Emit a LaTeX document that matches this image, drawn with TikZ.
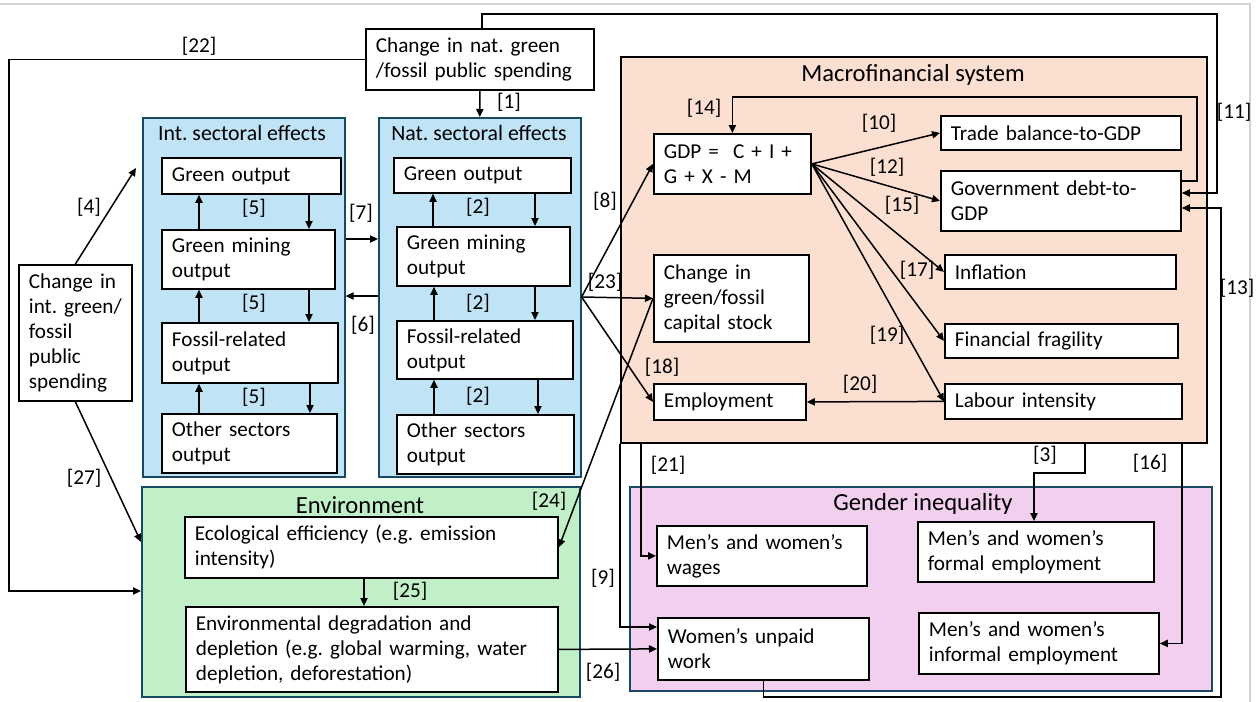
\documentclass[tikz,border=0pt]{standalone}
\usepackage{fontspec}
\setmainfont{Carlito}
\usetikzlibrary{arrows.meta}
\frenchspacing
\definecolor{sectblue}{HTML}{C0E4F5}
\definecolor{envgreen}{HTML}{C1F0C8}
\definecolor{macropeach}{HTML}{FBE0D2}
\definecolor{genderpink}{HTML}{F2CFEE}
\definecolor{grpline}{HTML}{1A4A63}

\begin{document}
\begin{tikzpicture}[x=0.5pt, y=-0.5pt,
    font=\fontsize{10.6}{12.5}\selectfont,
    >={Triangle[length=4pt,width=3.6pt]},
    box/.style={draw, line width=0.9pt, fill=white, anchor=north west, align=left, inner xsep=5pt, inner ysep=1pt},
    group/.style={draw=grpline, line width=0.8pt, anchor=north west, inner sep=0pt},
    title/.style={font=\fontsize{12.3}{14}\selectfont},
    subtitle/.style={font=\fontsize{10.9}{13}\selectfont},
    lab/.style={inner sep=1pt},
    link/.style={->, line width=0.75pt}]
    \useasboundingbox (0,0) rectangle (1260,702);
    \draw[gray!35, line width=0.8pt] (0,4) -- (1250,4) -- (1250,702);

    % groups
    \node[group, fill=sectblue, minimum width=101pt, minimum height=179.5pt] (intbox) at (142,117) {};
    \node[group, fill=sectblue, minimum width=101pt, minimum height=179.5pt] (natbox) at (378,117) {};
    \node[group, fill=envgreen, minimum width=219pt, minimum height=105pt] (envbox) at (141,486) {};
    \node[group, draw=black, line width=1.1pt, fill=macropeach, minimum width=293pt, minimum height=193pt] (macro) at (620,56) {};
    \node[group, fill=genderpink, minimum width=291pt, minimum height=102pt] (gender) at (629,486) {};

    \node[subtitle] (inttitle) at (242,133) {Int. sectoral effects};
    \node[subtitle] (nattitle) at (479,133) {Nat. sectoral effects};
    \node[title] (envtitle) at (360,505) {Environment};
    \node[title] (macrotitle) at (913,75) {Macrofinancial system};
    \node[title] (gendertitle) at (923,504) {Gender inequality};

    % spending boxes
    \node[box, text width=104pt, minimum height=30.5pt] (natsp) at (365,28) {Change in nat. green\\/fossil public spending};
    \node[box, text width=46.5pt, minimum height=68pt] (intsp) at (18,264) {Change in\\int. green/\\fossil\\public\\spending};

    % sectors
    \node[box, text width=79.5pt, minimum height=18pt] (intgo) at (161,157) {Green output};
    \node[box, text width=76.5pt, minimum height=29.5pt] (intgm) at (161,229) {Green mining\\output};
    \node[box, text width=78pt, minimum height=30pt] (intfo) at (161,322) {Fossil-related\\output};
    \node[box, text width=77.5pt, minimum height=29.5pt] (intot) at (161,413) {Other sectors\\output};
    \node[box, text width=78.5pt, minimum height=17.5pt] (natgo) at (393,157) {Green output};
    \node[box, text width=76.5pt, minimum height=29.5pt] (natgm) at (396,226) {Green mining\\output};
    \node[box, text width=78pt, minimum height=29pt] (natfo) at (396,320) {Fossil-related\\output};
    \node[box, text width=78.5pt, minimum height=29.5pt] (natot) at (396,414) {Other sectors\\output};

    % environment
    \node[box, text width=176.5pt, minimum height=30.5pt] (eco) at (184,516) {Ecological efficiency (e.g. emission\\intensity)};
    \node[box, text width=176pt, minimum height=42.5pt] (degr) at (185,606) {Environmental degradation and\\depletion (e.g. global warming, water\\depletion, deforestation)};

    % macrofinancial system
    \node[box, text width=68.5pt, minimum height=30pt] (gdp) at (653,133) {GDP = ~C + I +\\G + X - M};
    \node[box, text width=67.5pt, minimum height=43.5pt] (capst) at (653,254) {Change in\\green/fossil\\capital stock};
    \node[box, text width=66pt, minimum height=18pt] (empl) at (653,383) {Employment};
    \node[box, text width=110pt, minimum height=17pt] (trade) at (940,115) {Trade balance-to-GDP};
    \node[box, text width=110pt, minimum height=30pt] (gov) at (940,170) {Government debt-to-\\GDP};
    \node[box, text width=105.5pt, minimum height=17pt] (infl) at (944,254) {Inflation};
    \node[box, text width=106.5pt, minimum height=17pt] (frag) at (944,323) {Financial fragility};
    \node[box, text width=108.5pt, minimum height=17.5pt] (labour) at (944,383) {Labour intensity};

    % gender inequality
    \node[box, text width=95pt, minimum height=30pt] (wages) at (656,525) {Men’s and women’s\\wages};
    \node[box, text width=108pt, minimum height=30pt] (formal) at (917,521) {Men’s and women’s\\formal employment};
    \node[box, text width=95.5pt, minimum height=31pt] (unpaid) at (657,617) {Women’s unpaid\\work};
    \node[box, text width=110pt, minimum height=30.5pt] (informal) at (918,612) {Men’s and women’s\\informal employment};

    % links
    \draw[link] (natsp.south) -- (natbox.north);
    \draw[link] ([xshift=1pt]natsp.north) |- (1217,14) |- (gov.east |- 0,193);
    \draw[link] (natsp.west) -| (9,591) -- (envbox.west |- 0,591);
    \draw[link] (intsp.north) -- ([xshift=-3pt]intbox.west |- 0,168);
    \draw[link] (intsp.south) -- (envbox.west |- 0,542);

    \draw[link] (intgm.north -| 199,0) -- (intgo.south -| 199,0);
    \draw[link] (intgo.south -| 309,0) -- (intgm.north -| 309,0);
    \draw[link] (intfo.north -| 199,0) -- (intgm.south -| 199,0);
    \draw[link] (intgm.south -| 309,0) -- (intfo.north -| 309,0);
    \draw[link] (intot.north -| 199,0) -- (intfo.south -| 199,0);
    \draw[link] (intfo.south -| 310,0) -- (intot.north -| 310,0);
    \draw[link] (natgm.north -| 433,0) -- (natgo.south -| 433,0);
    \draw[link] (natgo.south -| 535,0) -- (natgm.north -| 535,0);
    \draw[link] (natfo.north -| 434,0) -- (natgm.south -| 434,0);
    \draw[link] (natgm.south -| 535,0) -- (natfo.north -| 535,0);
    \draw[link] (natot.north -| 434,0) -- (natfo.south -| 434,0);
    \draw[link] (natfo.south -| 538,0) -- (natot.north -| 538,0);

    \draw[link] (intbox.east |- 0,239) -- (natbox.west |- 0,239);
    \draw[link] (natbox.west |- 0,296) -- (intbox.east |- 0,296);

    \coordinate (fan) at (natbox.east |- 0,297);
    \draw[link] (fan) -- (gdp.west);
    \draw[link] (fan) -- (capst.west);
    \draw[link] (fan) -- (empl.west);
    \draw[link] (capst.west) -- (eco.east);
    \draw[link] (eco.south -| 364,0) -- (degr.north -| 364,0);

    \draw[link] (gdp.east) -- (trade.west);
    \draw[link] (gdp.east) -- (gov.west);
    \draw[link] (gdp.east) -- (infl.west);
    \draw[link] (gdp.east) -- (frag.west);
    \draw[link] (gdp.east) -- (labour.west);
    \draw[link] (gov.east |- 0,181) -| (1197,97) -| (gdp.north);
    \draw[link] (labour.west) -- (empl.east);

    \draw[link] (unpaid.south) |- (1221,697) |- (gov.east |- 0,208);
    \draw[link] (macro.south -| 641,0) |- (wages.west);
    \draw[link] (macro.south west) |- (unpaid.west |- 0,627);
    \draw[link] (degr.east) -- (unpaid.west);
    \draw[link] (macro.south -| 1085,0) |- (1034,473) -- (formal.north -| 1034,0);
    \draw[link] (macro.south -| 1182,0) |- (informal.east);

    % labels
    \node[lab] at (199,46) {[22]};
    \node[lab] at (509,102) {[1]};
    \node[lab] at (89,207) {[4]};
    \node[lab] at (254,208) {[5]};
    \node[lab] at (254,303) {[5]};
    \node[lab] at (254,397) {[5]};
    \node[lab] at (478,207) {[2]};
    \node[lab] at (478,303) {[2]};
    \node[lab] at (478,396) {[2]};
    \node[lab] at (361,213) {[7]};
    \node[lab] at (363,325) {[6]};
    \node[lab] at (84,478) {[27]};
    \node[lab] at (605,201) {[8]};
    \node[lab] at (605,282) {[23]};
    \node[lab] at (662,367) {[18]};
    \node[lab] at (549,501) {[24]};
    \node[lab] at (410,591) {[25]};
    \node[lab] at (603,578) {[9]};
    \node[lab] at (603,672) {[26]};
    \node[lab] at (668,465) {[21]};
    \node[lab] at (704,108) {[14]};
    \node[lab] at (879,123) {[10]};
    \node[lab] at (887,167) {[12]};
    \node[lab] at (902,205) {[15]};
    \node[lab] at (917,270) {[17]};
    \node[lab] at (887,335) {[19]};
    \node[lab] at (860,384) {[20]};
    \node[lab] at (1234,112) {[11]};
    \node[lab] at (1237,288) {[13]};
    \node[lab] at (1045,455) {[3]};
    \node[lab] at (1150,463) {[16]};
\end{tikzpicture}
\end{document}
